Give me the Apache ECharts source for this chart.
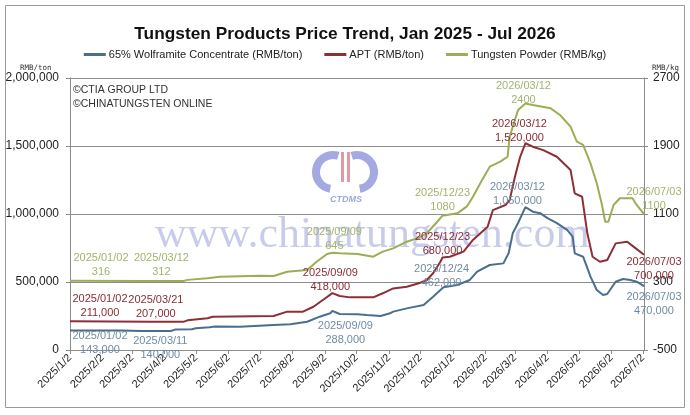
<!DOCTYPE html>
<html lang="en">
<head>
    <meta charset="UTF-8">
    <title>Tungsten Products Price Trend</title>
    <script src="https://cdn.jsdelivr.net/npm/echarts@6/dist/echarts.min.js"></script>
    <style>
        html, body { margin: 0; padding: 0; background: #fff; }
        #chart { width: 690px; height: 415px; }
    </style>
</head>
<body>
<div id="chart"></div>
<script>
    // price points: [date, value]
    var wolframite = [
        ['2025-01-02', 143000], ['2025-02-20', 143000], ['2025-03-11', 140000], ['2025-04-08', 140000],
        ['2025-04-12', 150000], ['2025-04-28', 152000], ['2025-05-02', 160000], ['2025-05-15', 168000],
        ['2025-05-20', 172000], ['2025-06-13', 171000], ['2025-07-15', 184000], ['2025-07-31', 190000],
        ['2025-08-16', 208000], ['2025-08-28', 245000], ['2025-09-07', 270000], ['2025-09-09', 288000],
        ['2025-09-16', 265000], ['2025-10-03', 262000], ['2025-10-12', 257000], ['2025-10-25', 250000],
        ['2025-11-03', 270000], ['2025-11-06', 282000], ['2025-11-19', 306000], ['2025-12-05', 331000],
        ['2025-12-14', 392000], ['2025-12-21', 441000], ['2025-12-24', 462000], ['2026-01-06', 478000],
        ['2026-01-18', 515000], ['2026-01-25', 576000], ['2026-02-06', 625000], ['2026-02-19', 637000],
        ['2026-02-24', 711000], ['2026-02-28', 860000], ['2026-03-05', 934000], ['2026-03-12', 1050000],
        ['2026-03-19', 1017000], ['2026-03-26', 1006000], ['2026-04-02', 970000], ['2026-04-11', 933000],
        ['2026-04-21', 882000], ['2026-04-26', 833000], ['2026-04-28', 711000], ['2026-05-06', 686000],
        ['2026-05-13', 539000], ['2026-05-19', 441000], ['2026-05-25', 404000], ['2026-05-29', 412000],
        ['2026-06-06', 502000], ['2026-06-13', 522000], ['2026-06-20', 515000], ['2026-06-26', 502000],
        ['2026-07-03', 470000]
    ]
    var apt = [
        ['2025-01-02', 211000], ['2025-03-21', 207000], ['2025-04-20', 207000], ['2025-04-24', 218000],
        ['2025-05-13', 233000], ['2025-05-18', 245000], ['2025-07-15', 250000], ['2025-07-28', 282000],
        ['2025-08-12', 282000], ['2025-08-22', 318000], ['2025-08-31', 368000], ['2025-09-09', 418000],
        ['2025-09-16', 397000], ['2025-09-26', 387000], ['2025-10-18', 387000], ['2025-10-27', 417000],
        ['2025-11-06', 453000], ['2025-11-19', 465000], ['2025-12-02', 495000], ['2025-12-08', 515000],
        ['2025-12-14', 564000], ['2025-12-21', 649000], ['2025-12-23', 680000], ['2025-12-30', 686000],
        ['2026-01-12', 723000], ['2026-01-21', 809000], ['2026-02-04', 907000], ['2026-02-09', 1029000],
        ['2026-02-21', 1066000], ['2026-02-25', 1103000], ['2026-03-02', 1274000], ['2026-03-07', 1421000],
        ['2026-03-12', 1520000], ['2026-03-19', 1495000], ['2026-03-29', 1470000], ['2026-04-11', 1421000],
        ['2026-04-24', 1323000], ['2026-04-28', 1152000], ['2026-05-05', 1127000], ['2026-05-10', 858000],
        ['2026-05-15', 686000], ['2026-05-22', 649000], ['2026-05-29', 662000], ['2026-06-06', 784000],
        ['2026-06-17', 796000], ['2026-06-23', 760000], ['2026-07-03', 700000]
    ]
    var powder = [
        ['2025-01-02', 316], ['2025-03-12', 312], ['2025-04-20', 312], ['2025-04-24', 325],
        ['2025-05-13', 343], ['2025-05-25', 362], ['2025-07-02', 374], ['2025-07-15', 371],
        ['2025-07-28', 421], ['2025-08-16', 441], ['2025-08-25', 539], ['2025-09-04', 630],
        ['2025-09-09', 645], ['2025-09-16', 638], ['2025-10-03', 629], ['2025-10-18', 598],
        ['2025-10-27', 657], ['2025-11-06', 696], ['2025-11-19', 774], ['2025-11-29', 814],
        ['2025-12-08', 873], ['2025-12-18', 1009], ['2025-12-23', 1080], ['2026-01-06', 1108],
        ['2026-01-15', 1186], ['2026-01-21', 1304], ['2026-01-28', 1461], ['2026-02-06', 1657],
        ['2026-02-16', 1716], ['2026-02-23', 1774], ['2026-02-25', 2010], ['2026-03-05', 2324],
        ['2026-03-12', 2400], ['2026-03-19', 2382], ['2026-04-05', 2343], ['2026-04-14', 2265],
        ['2026-04-24', 2127], ['2026-04-30', 1951], ['2026-05-06', 1912], ['2026-05-13', 1696],
        ['2026-05-19', 1461], ['2026-05-24', 1206], ['2026-05-27', 1009], ['2026-05-30', 1009],
        ['2026-06-04', 1206], ['2026-06-10', 1285], ['2026-06-22', 1285], ['2026-06-26', 1206],
        ['2026-07-03', 1100]
    ]

    // annotated points
    var wolframiteNotes = [['2025-01-02', 143000], ['2025-03-11', 140000], ['2025-09-09', 288000],
        ['2025-12-24', 462000], ['2026-03-12', 1050000], ['2026-07-03', 470000]]
    var aptNotes = [['2025-01-02', 211000], ['2025-03-21', 207000], ['2025-09-09', 418000],
        ['2025-12-23', 680000], ['2026-03-12', 1520000], ['2026-07-03', 700000]]
    var powderNotes = [['2025-01-02', 316], ['2025-03-12', 312], ['2025-09-09', 645],
        ['2025-12-23', 1080], ['2026-03-12', 2400], ['2026-07-03', 1100]]

    var seriesNames = ['65% Wolframite Concentrate (RMB/ton)', 'APT (RMB/ton)', 'Tungsten Powder (RMB/kg)']
    var leftTicks = [0, 2000000, 500000]
    var rightTicks = [-500, 2700, 800]
    var startDay = '2025-01-02'
    var endDay = '2026-07-03'

    // label placement: [position, dx, dy]
    var wolframiteLabelPos = [['bottom', 30, -2], ['bottom', 19, 3], ['bottom', 13, 8],
        ['top', -2, 3], ['top', -8, 1], ['bottom', 10, 4]]
    var aptLabelPos = [['top', 30, -1], ['top', 4, -1], ['top', -2, 1],
        ['top', 0, 0], ['top', -6, 2], ['bottom', 10, 0]]
    var powderLabelPos = [['top', 31, -2], ['top', 19, -2], ['top', 2, 0],
        ['top', 0, -2], ['top', -2, 3], ['top', 10, -1]]

    var FONT = '"Liberation Sans", Arial, sans-serif'

    var days = []
    var t = Date.parse(startDay + 'T00:00:00Z')
    var tEnd = Date.parse(endDay + 'T00:00:00Z')
    while (t <= tEnd) {
        days.push(new Date(t).toISOString().slice(0, 10))
        t += 86400000
    }

    function monthMark(index, value) {
        return value.slice(8) === '02'
    }
    function slashDate(d, pad) {
        var p = d.split('-')
        if (pad) return p[0] + '/' + p[1] + '/' + p[2]
        return p[0] + '/' + parseInt(p[1], 10) + '/' + parseInt(p[2], 10)
    }
    function withCommas(v) {
        return String(v).replace(/\B(?=(\d{3})+(?!\d))/g, ',')
    }

    function notes(list, pos, color, commas) {
        return list.map(function (n, i) {
            var text = slashDate(n[0], true) + '\n' + (commas ? withCommas(n[1]) : String(n[1]))
            return {
                coord: n,
                symbol: 'circle',
                symbolSize: 0,
                label: {
                    show: true,
                    position: pos[i][0],
                    distance: 0,
                    offset: [pos[i][1], pos[i][2]],
                    formatter: text,
                    color: color,
                    fontFamily: FONT,
                    fontSize: 11,
                    lineHeight: 14,
                    align: 'center'
                }
            }
        })
    }

    var chart = echarts.init(document.getElementById('chart'), null, {renderer: 'canvas'})
    chart.setOption({
        animation: false,
        backgroundColor: '#ffffff',
        title: {
            text: 'Tungsten Products Price Trend, Jan 2025 - Jul 2026',
            left: 'center',
            top: 21,
            textStyle: {fontFamily: FONT, fontSize: 17.3, fontWeight: 'bold', color: '#111'}
        },
        legend: {
            top: 44,
            left: 'center',
            itemWidth: 22,
            itemHeight: 3,
            itemGap: 22,
            icon: 'rect',
            data: seriesNames,
            textStyle: {fontFamily: FONT, fontSize: 11, color: '#222', padding: [0, 0, 0, -2]}
        },
        grid: {left: 70, right: 46, top: 78, bottom: 65},
        xAxis: {
            type: 'category',
            data: days,
            boundaryGap: false,
            axisLine: {lineStyle: {color: '#8c8c8c', width: 1}},
            axisTick: {show: true, interval: monthMark, length: 4, lineStyle: {color: '#8c8c8c'}},
            axisLabel: {
                interval: monthMark,
                rotate: 45,
                margin: 6,
                color: '#222',
                fontFamily: FONT,
                fontSize: 11,
                formatter: function (v) { return slashDate(v, false) }
            },
            splitLine: {show: false}
        },
        yAxis: [{
            type: 'value',
            min: leftTicks[0],
            max: leftTicks[1],
            interval: leftTicks[2],
            axisLine: {show: true, lineStyle: {color: '#8c8c8c'}},
            axisTick: {show: true, length: 4, lineStyle: {color: '#8c8c8c'}},
            axisLabel: {color: '#222', fontFamily: FONT, fontSize: 12, margin: 11},
            splitLine: {show: true, lineStyle: {color: '#8c8c8c', width: 1}}
        }, {
            type: 'value',
            min: rightTicks[0],
            max: rightTicks[1],
            interval: rightTicks[2],
            axisLine: {show: true, lineStyle: {color: '#8c8c8c'}},
            axisTick: {show: true, length: 4, lineStyle: {color: '#8c8c8c'}},
            axisLabel: {color: '#222', fontFamily: FONT, fontSize: 12, margin: 9,
                formatter: function (v) { return String(v) }},
            splitLine: {show: false}
        }],
        series: [{
            name: seriesNames[0],
            type: 'line',
            data: wolframite,
            yAxisIndex: 0,
            showSymbol: false,
            color: '#4a6e8e',
            lineStyle: {width: 2, color: '#4a6e8e'},
            z: 3,
            markPoint: {data: notes(wolframiteNotes, wolframiteLabelPos, '#6f8ca3', true)}
        }, {
            name: seriesNames[1],
            type: 'line',
            data: apt,
            yAxisIndex: 0,
            showSymbol: false,
            color: '#8c2f37',
            lineStyle: {width: 2, color: '#8c2f37'},
            z: 3,
            markPoint: {data: notes(aptNotes, aptLabelPos, '#8a2c33', true)}
        }, {
            name: seriesNames[2],
            type: 'line',
            data: powder,
            yAxisIndex: 1,
            showSymbol: false,
            color: '#9bae55',
            lineStyle: {width: 2, color: '#9bae55'},
            z: 3,
            markPoint: {data: notes(powderNotes, powderLabelPos, '#a2b46c', false)}
        }],
        graphic: [
            {type: 'rect', shape: {x: 5.5, y: 5.5, width: 679, height: 402},
                style: {fill: 'none', stroke: '#9a9a9a', lineWidth: 1}, z: -1},
            {type: 'line', shape: {x1: 70, y1: 78.5, x2: 644, y2: 78.5},
                style: {stroke: '#8c8c8c', lineWidth: 1}},
            {type: 'text', left: 20, top: 64,
                style: {text: 'RMB/ton', fill: '#333', font: '7.5px "DejaVu Sans Mono", monospace'}},
            {type: 'text', left: 652, top: 64,
                style: {text: 'RMB/kg', fill: '#333', font: '7.5px "DejaVu Sans Mono", monospace'}},
            {type: 'text', left: 73, top: 83,
                style: {text: '©CTIA GROUP LTD\n©CHINATUNGSTEN ONLINE', fill: '#333', lineHeight: 14,
                    font: '10.5px "Liberation Sans", sans-serif'}},
            {type: 'text', left: 155, top: 213, z: 1,
                style: {text: 'www.chinatungsten.com', fill: 'rgba(110,120,200,0.38)',
                    font: '44px "Liberation Serif", "DejaVu Serif", serif'}},
            {type: 'arc', shape: {cx: 333, cy: 172, r: 17, startAngle: Math.PI * 0.55, endAngle: Math.PI * 1.6},
                style: {stroke: 'rgba(90,100,200,0.55)', lineWidth: 8, fill: 'none'}},
            {type: 'arc', shape: {cx: 357, cy: 172, r: 17, startAngle: -Math.PI * 0.6, endAngle: Math.PI * 0.45},
                style: {stroke: 'rgba(90,100,200,0.55)', lineWidth: 8, fill: 'none'}},
            {type: 'rect', shape: {x: 341, y: 152, width: 3, height: 30},
                style: {fill: 'rgba(200,70,90,0.55)'}},
            {type: 'rect', shape: {x: 347, y: 152, width: 3, height: 30},
                style: {fill: 'rgba(200,70,90,0.55)'}},
            {type: 'text', left: 330, top: 195,
                style: {text: 'CTDMS', fill: 'rgba(90,110,200,0.6)',
                    font: 'italic bold 9px "Liberation Sans", sans-serif'}}
        ]
    })
</script>
</body>
</html>
